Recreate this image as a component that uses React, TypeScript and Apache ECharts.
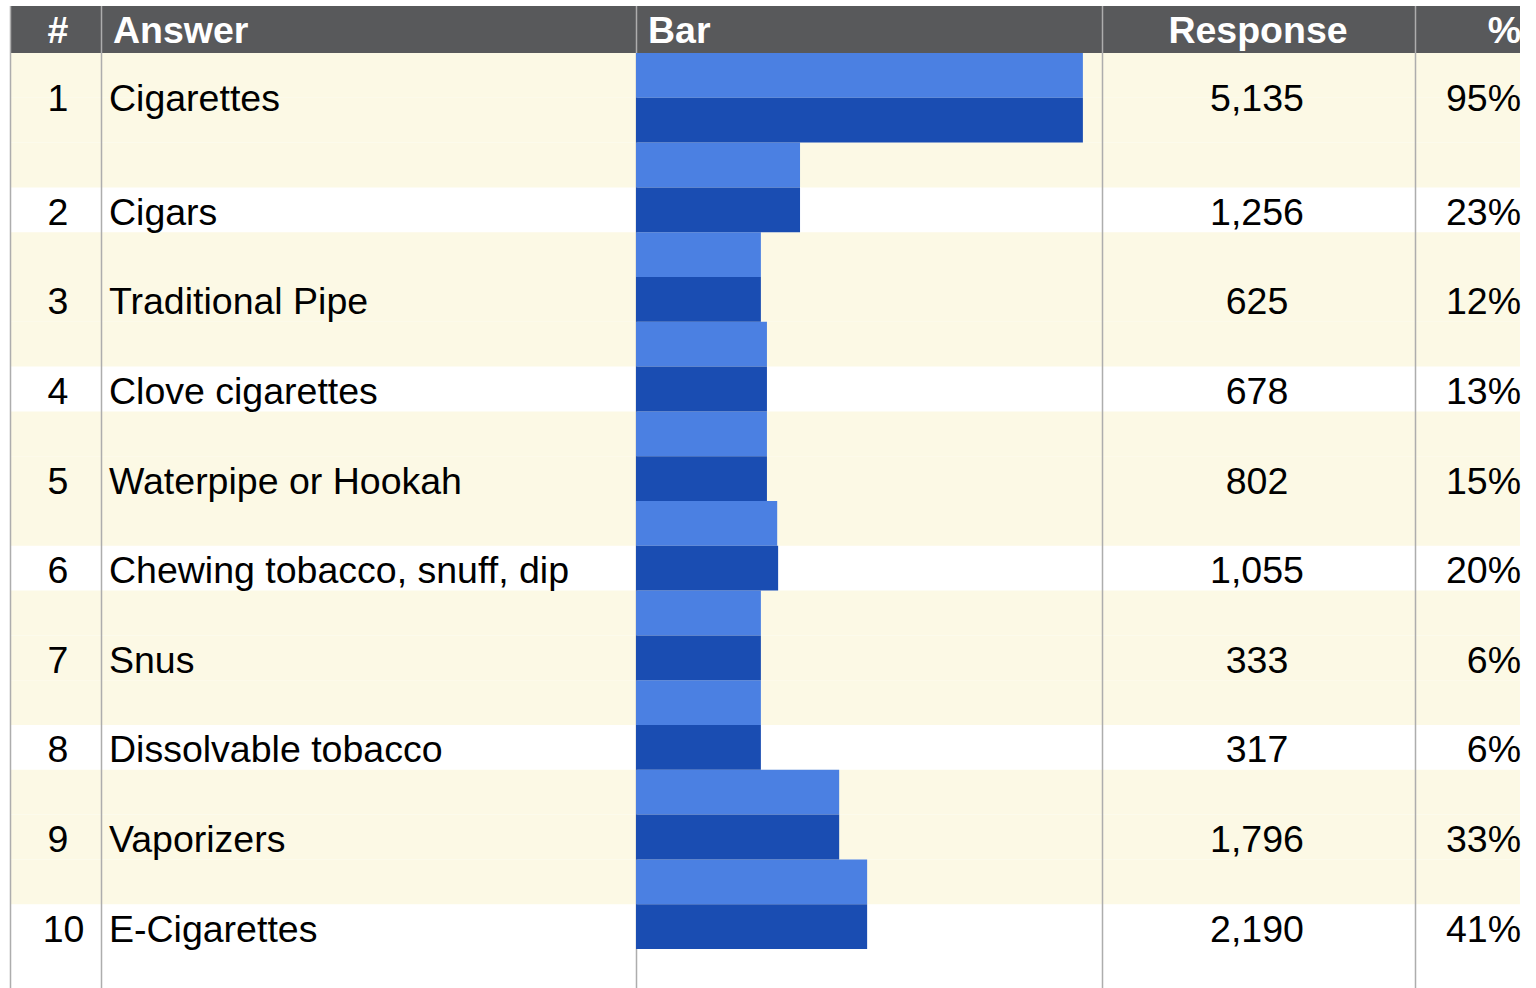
import React, { useEffect, useRef } from "react";
import * as echarts from "echarts";

const ranks = ["1", "2", "3", "4", "5", "6", "7", "8", "9", "10"];
const answers = [
  "Cigarettes",
  "Cigars",
  "Traditional Pipe",
  "Clove cigarettes",
  "Waterpipe or Hookah",
  "Chewing tobacco, snuff, dip",
  "Snus",
  "Dissolvable tobacco",
  "Vaporizers",
  "E-Cigarettes",
];
const responses = [5135, 1256, 625, 678, 802, 1055, 333, 317, 1796, 2190];
const percents = [95, 23, 12, 13, 15, 20, 6, 6, 33, 41];
// bar lengths (percent of the Bar column width)
const barLight = [95.9, 35.2, 26.8, 28.1, 28.1, 30.3, 26.8, 26.8, 43.6, 49.6];
const barDark = [95.9, 35.2, 26.8, 28.1, 28.1, 30.5, 26.8, 26.8, 43.6, 49.6];
const headers = ["#", "Answer", "Bar", "Response", "%"];

const FONT = "'Liberation Sans', Arial, sans-serif";
const FS = 37.5;
const HEADER_BG = "#58595b";
const CREAM = "#fcf9e5";
const LIGHT = "#4b80e2";
const DARK = "#1a4db2";
const LINE = "#adadad";

const W = 1536;
const H = 988;
const TABLE_L = 10;
const TABLE_R = 1520;
const HEAD_T = 6;
const HEAD_B = 53;
const COLS = [10, 101, 636, 1102, 1415];
const BAR_L = 636;
const BAR_R = 1102;
const BODY_H = 896;

export default function App() {
  const ref = useRef<HTMLDivElement>(null);
  useEffect(() => {
    document.body.style.margin = "0";
    const chart = echarts.init(ref.current!, undefined, { renderer: "svg" });
    const idx = answers.map((_, i) => [0, i]);

    const graphics: any[] = [
      {
        type: "rect",
        z: 0,
        shape: { x: TABLE_L, y: HEAD_T, width: TABLE_R - TABLE_L, height: HEAD_B - HEAD_T },
        style: { fill: HEADER_BG },
        silent: true,
      },
      ...COLS.map((x) => ({
        type: "line",
        z: 1,
        shape: { x1: x + 0.5, y1: HEAD_T, x2: x + 0.5, y2: H },
        style: { stroke: LINE, lineWidth: 1.5 },
        silent: true,
      })),
    ];
    const hy = (HEAD_T + HEAD_B) / 2;
    const headerPos = [
      { x: 58, align: "center" },
      { x: 113, align: "left" },
      { x: 648, align: "left" },
      { x: 1258, align: "center" },
      { x: 1521, align: "right" },
    ];
    headers.forEach((h, i) => {
      graphics.push({
        type: "text",
        z: 5,
        x: headerPos[i].x,
        y: hy,
        style: {
          text: h,
          fill: "#ffffff",
          font: `bold ${FS}px ${FONT}`,
          align: headerPos[i].align,
          verticalAlign: "middle",
        },
        silent: true,
      });
    });

    const option: any = {
      animation: false,
      backgroundColor: "#ffffff",
      grid: { left: BAR_L, top: HEAD_B, width: BAR_R - BAR_L, height: BODY_H, containLabel: false },
      xAxis: { type: "value", min: 0, max: 100, show: false },
      yAxis: {
        type: "category",
        data: answers,
        inverse: true,
        show: false,
      },
      graphic: graphics,
      series: [
        {
          type: "custom",
          z: 0,
          silent: true,
          data: idx,
          encode: { x: 0, y: 1 },
          renderItem: (params: any, api: any) => {
            const i = api.value(1);
            const c = api.coord([0, i]);
            const band = api.size([0, 1])[1];
            const top = c[1] - band / 2;
            const children: any[] = [
              {
                type: "rect",
                shape: { x: TABLE_L, y: top, width: TABLE_R - TABLE_L, height: band / 2 },
                style: { fill: CREAM },
              },
            ];
            if (i % 2 === 0) {
              children.push({
                type: "rect",
                shape: { x: TABLE_L, y: c[1], width: TABLE_R - TABLE_L, height: band / 2 },
                style: { fill: CREAM },
              });
            }
            return { type: "group", children };
          },
        },
        {
          type: "bar",
          z: 2,
          data: barLight,
          barGap: "0%",
          barCategoryGap: "0%",
          itemStyle: { color: LIGHT },
          silent: true,
        },
        {
          type: "bar",
          z: 2,
          data: barDark,
          barGap: "0%",
          barCategoryGap: "0%",
          itemStyle: { color: DARK },
          silent: true,
        },
        {
          type: "custom",
          z: 5,
          silent: true,
          data: idx,
          encode: { x: 0, y: 1 },
          renderItem: (params: any, api: any) => {
            const i = api.value(1);
            const c = api.coord([0, i]);
            const band = api.size([0, 1])[1];
            const y = i === 0 ? c[1] : c[1] + band / 4 + 2;
            const mk = (text: string, x: number, align: string) => ({
              type: "text",
              x,
              y,
              style: {
                text,
                fill: "#000000",
                font: `${FS}px ${FONT}`,
                align,
                verticalAlign: "middle",
              },
            });
            return {
              type: "group",
              children: [
                mk(ranks[i], 58 + (ranks[i].length - 1) * 5.5, "center"),
                mk(answers[i], 109, "left"),
                mk(responses[i].toLocaleString("en-US"), 1257, "center"),
                mk(percents[i] + "%", 1521, "right"),
              ],
            };
          },
        },
      ],
    };
    chart.setOption(option);
    return () => chart.dispose();
  }, []);
  return <div ref={ref} style={{ width: W, height: H }} />;
}
